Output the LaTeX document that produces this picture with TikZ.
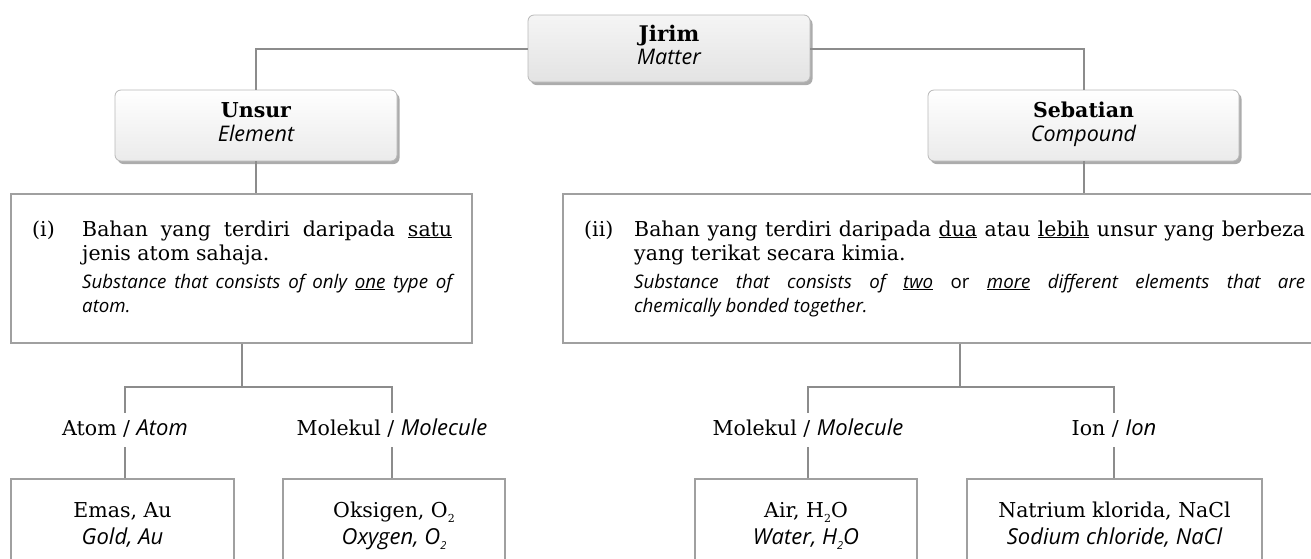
\documentclass[tikz,border=0pt]{standalone}
\usepackage{fontspec}
\setmainfont{DejaVu Serif}
\newfontfamily\itsans{Open Sans}
\usetikzlibrary{shadows,calc}
\definecolor{linegrey}{HTML}{8C8C8C}
\definecolor{boxgrey}{HTML}{A0A0A0}
\definecolor{headgrey}{HTML}{B8B8B8}
\newcommand\en[1]{{\itsans\itshape\fontsize{18.7}{24}\selectfont #1}}
\newcommand\enh[1]{{\itsans\itshape\fontsize{21.5}{24}\selectfont #1}}
\newcommand\enb[1]{{\itsans\itshape\fontsize{22}{24}\selectfont #1}}
\newcommand\enup[1]{{\itsans\upshape\fontsize{18.7}{24}\selectfont #1}}
\newcommand\lsub[1]{\raisebox{-0.5ex}{\fontsize{11}{11}\selectfont #1}}
\tikzset{
  conn/.style={draw=linegrey, line width=2pt},
  headbox/.style={draw=headgrey, line width=0.8pt, rounded corners=6pt,
    top color=white, bottom color=black!8, inner sep=0pt,
    drop shadow={shadow xshift=2.5pt, shadow yshift=-3pt, fill=black!65}},
  rootbox/.style={headbox, top color=black!4, bottom color=black!11},
  bigbox/.style={draw=boxgrey, line width=1.3pt, fill=white, inner sep=0pt},
  lbl/.style={anchor=base, text height=15pt, text depth=5pt, inner xsep=0pt, inner ysep=7pt},
  txt/.style={anchor=base west, inner sep=0pt},
  ctxt/.style={anchor=base, inner sep=0pt},
}
\begin{document}
\begin{tikzpicture}[x=1pt, y=-1pt, font=\fontsize{20.5}{24}\selectfont]
\useasboundingbox (0,0) rectangle (1311,558);
% boxes
\node[rootbox, minimum width=282pt, minimum height=67pt] (jirim) at (669,48.5) {};
\node[headbox, minimum width=282pt, minimum height=71pt] (unsur) at (256,125.5) {};
\node[headbox, minimum width=311pt, minimum height=71pt] (sebatian) at (1083.5,125.5) {};
\node[ctxt] (jirimA) at (669,41) {\fontsize{21.5}{24}\selectfont\bfseries Jirim};
\node[ctxt] (jirimB) at (669,64) {\enh{Matter}};
\node[ctxt] (unsurA) at (256,117) {\bfseries Unsur};
\node[ctxt] (unsurB) at (256,141) {\enh{Element}};
\node[ctxt] (sebA) at (1083.5,117) {\bfseries Sebatian};
\node[ctxt] (sebB) at (1083.5,141) {\enh{Compound}};

\node[bigbox, minimum width=461pt, minimum height=149pt] (leftbox) at (241.5,268.5) {};
\node[bigbox, minimum width=757pt, minimum height=149pt] (rightbox) at (941.5,268.5) {};

\node[txt] (li) at (32,236) {(i)};
\node[txt] (l1) at (82,236) {\makebox[370pt][s]{Bahan yang terdiri daripada \underline{satu}}};
\node[txt] (l2) at (82,260) {jenis atom sahaja.};
\node[txt] (l3) at (82,288) {\en{\makebox[370pt][s]{Substance that consists of only \underline{one} type of}}};
\node[txt] (l4) at (82,312) {\en{atom.}};

\node[txt] (ri) at (584,236) {(ii)};
\node[txt] (r1) at (634,236) {\makebox[671pt][s]{Bahan yang terdiri daripada \underline{dua} atau \underline{lebih} unsur yang berbeza}};
\node[txt] (r2) at (634,260) {yang terikat secara kimia.};
\node[txt] (r3) at (634,288) {\en{\makebox[671pt][s]{Substance that consists of \underline{two} \enup{or} \underline{more} different elements that are}}};
\node[txt] (r4) at (634,312) {\en{chemically bonded together.}};

% labels
\node[lbl] (atom) at (125,435) {Atom / \enb{Atom}};
\node[lbl] (molL) at (392,435) {Molekul / \enb{Molecule}};
\node[lbl] (molR) at (808,435) {Molekul / \enb{Molecule}};
\node[lbl] (ion) at (1114,435) {Ion / \enb{Ion}};

% bottom boxes
\node[bigbox, minimum width=223pt, minimum height=130pt] (emas) at (122.5,544) {};
\node[bigbox, minimum width=222pt, minimum height=130pt] (oks) at (394,544) {};
\node[bigbox, minimum width=222pt, minimum height=130pt] (air) at (806,544) {};
\node[bigbox, minimum width=295pt, minimum height=130pt] (nacl) at (1114.5,544) {};

\node[ctxt] (emasA) at (122.5,517) {Emas, Au};
\node[ctxt] (emasB) at (122.5,544) {\enb{Gold, Au}};
\node[ctxt] (oksA) at (394,517) {Oksigen, O\lsub{2}};
\node[ctxt] (oksB) at (394,544) {\enb{Oxygen, O\lsub{2}}};
\node[ctxt] (airA) at (806,517) {Air, H\lsub{2}O};
\node[ctxt] (airB) at (806,544) {\enb{Water, H\lsub{2}O}};
\node[ctxt] (naclA) at (1114.5,517) {Natrium klorida, NaCl};
\node[ctxt] (naclB) at (1114.5,544) {\enb{Sodium chloride, NaCl}};

% connectors
\coordinate (lj) at (241.5,387);
\coordinate (rj) at (960,387);
\draw[conn] (jirim.west) -| (unsur.north);
\draw[conn] (jirim.east) -| (sebatian.north);
\draw[conn] (unsur.south) -- (unsur.south |- leftbox.north);
\draw[conn] (sebatian.south) -- (sebatian.south |- rightbox.north);
\draw[conn] (leftbox.south) -- (lj);
\draw[conn] (rj |- rightbox.south) -- (rj);
\draw[conn] (atom.north) |- (lj) -| (molL.north);
\draw[conn] (molR.north) |- (rj) -| (ion.north);
\draw[conn] (atom.south) -- (atom.south |- emas.north);
\draw[conn] (molL.south) -- (molL.south |- oks.north);
\draw[conn] (molR.south) -- (molR.south |- air.north);
\draw[conn] (ion.south) -- (ion.south |- nacl.north);
\end{tikzpicture}
\end{document}
